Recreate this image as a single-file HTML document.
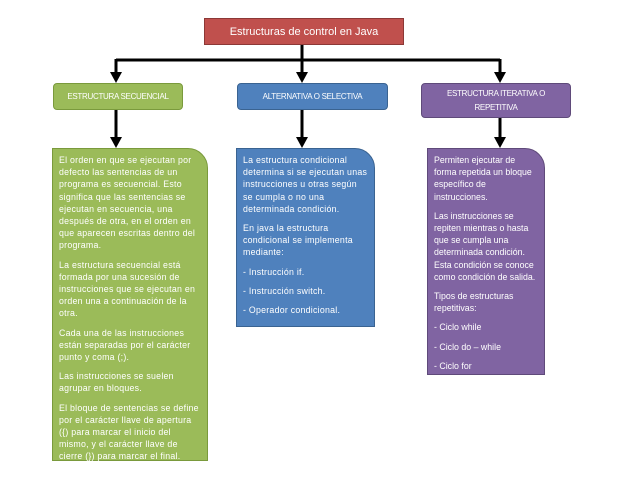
<!DOCTYPE html>
<html><head><meta charset="utf-8"><style>
body{margin:0;width:638px;height:493px;background:#fff;position:relative;font-family:"Liberation Sans",sans-serif;overflow:hidden}
.b{position:absolute;box-sizing:border-box;color:#fff}
.t{left:204px;top:18px;width:200px;height:27px;background:#c0504d;border:1px solid #8c3836;font-size:11px;text-align:center;line-height:26px}
.h{border-radius:4px;font-size:8px;text-align:center;letter-spacing:-0.3px}
.body{font-size:8.8px;line-height:12.2px;letter-spacing:0.25px;padding:5px 6px 0 6px;border-top-right-radius:20px}
.body p{margin:0 0 7px 0}
svg{position:absolute;left:0;top:0}
</style></head><body>
<svg width="638" height="493">
<g stroke="#000" stroke-width="3" fill="none">
<line x1="302" y1="45" x2="302" y2="60"/>
<line x1="116" y1="60" x2="500" y2="60"/>
<line x1="116" y1="59" x2="116" y2="74"/>
<line x1="302" y1="59" x2="302" y2="74"/>
<line x1="500" y1="59" x2="500" y2="74"/>
<line x1="116" y1="110" x2="116" y2="139"/>
<line x1="302" y1="110" x2="302" y2="139"/>
<line x1="500" y1="118" x2="500" y2="139"/>
</g>
<g fill="#000">
<path d="M110,72L122,72L116,83z"/><path d="M296,72L308,72L302,83z"/><path d="M494,72L506,72L500,83z"/>
<path d="M110,137L122,137L116,148z"/><path d="M296,137L308,137L302,148z"/><path d="M494,137L506,137L500,148z"/>
</g></svg>
<div class="b t">Estructuras de control en Java</div>
<div class="b h" style="left:53px;top:83px;width:130px;height:27px;background:#9bbb59;border:1px solid #7a9a3c;line-height:26px">ESTRUCTURA SECUENCIAL</div>
<div class="b h" style="left:237px;top:83px;width:151px;height:27px;background:#4f81bd;border:1px solid #3a6391;line-height:26px">ALTERNATIVA O SELECTIVA</div>
<div class="b h" style="left:421px;top:83px;width:150px;height:35px;background:#8064a2;border:1px solid #5f4a7a;line-height:14px;padding-top:3px">ESTRUCTURA ITERATIVA O<br>REPETITIVA</div>
<div class="b body" style="left:52px;top:148px;width:156px;height:313px;background:#9bbb59;border:1px solid #7a9a3c">
<p>El orden en que se ejecutan por defecto las sentencias de un programa es secuencial. Esto significa que las sentencias se ejecutan en secuencia, una después de otra, en el orden en que aparecen escritas dentro del programa.</p>
<p>La estructura secuencial está formada por una sucesión de instrucciones que se ejecutan en orden una a continuación de la otra.</p>
<p>Cada una de las instrucciones están separadas por el carácter punto y coma (;).</p>
<p>Las instrucciones se suelen agrupar en bloques.</p>
<p>El bloque de sentencias se define por el carácter llave de apertura ({) para marcar el inicio del mismo, y el carácter llave de cierre (}) para marcar el final.</p>
</div>
<div class="b body" style="left:236px;top:148px;width:139px;height:179px;background:#4f81bd;border:1px solid #3a6391">
<p>La estructura condicional determina si se ejecutan unas instrucciones u otras según se cumpla o no una determinada condición.</p>
<p>En java la estructura condicional se implementa mediante:</p>
<p>- Instrucción if.</p>
<p>- Instrucción switch.</p>
<p>- Operador condicional.</p>
</div>
<div class="b body" style="left:427px;top:148px;width:118px;height:227px;background:#8064a2;border:1px solid #5f4a7a;letter-spacing:0">
<p>Permiten ejecutar de forma repetida un bloque específico de instrucciones.</p>
<p>Las instrucciones se repiten mientras o hasta que se cumpla una determinada condición. Esta condición se conoce como condición de salida.</p>
<p>Tipos de estructuras repetitivas:</p>
<p>- Ciclo while</p>
<p>- Ciclo do – while</p>
<p>- Ciclo for</p>
</div>
</body></html>
